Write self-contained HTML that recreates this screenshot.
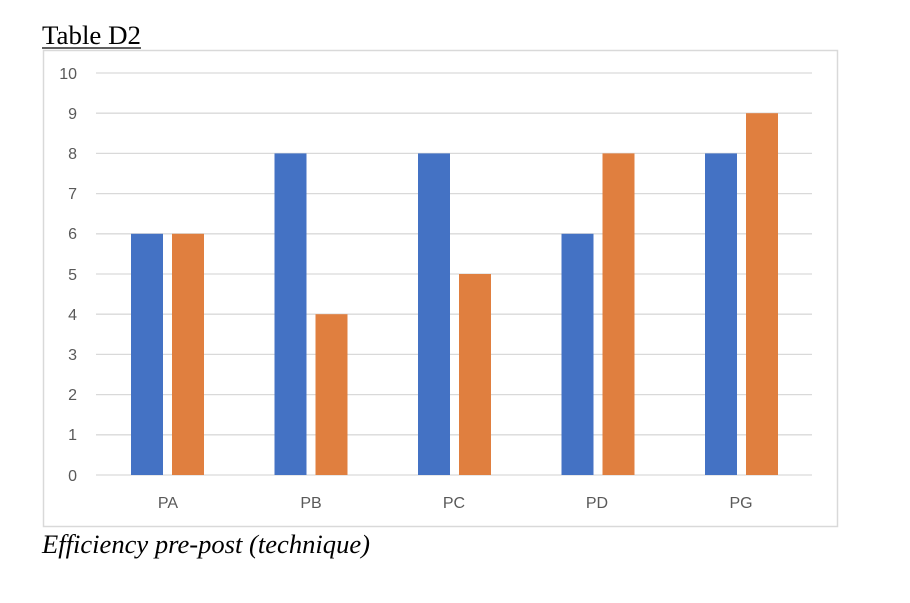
<!DOCTYPE html>
<html><head><style>
body{margin:0;width:910px;height:598px;background:#fff;overflow:hidden}
</style></head><body>
<svg width="910" height="598" xmlns="http://www.w3.org/2000/svg">
<text x="42" y="44" font-family="Liberation Serif, serif" font-size="26" fill="#000" textLength="99" lengthAdjust="spacingAndGlyphs">Table D2</text>
<line x1="42" y1="48" x2="141" y2="48" stroke="#000" stroke-width="1.3"/>
<rect x="43.5" y="50.5" width="794" height="476" fill="none" stroke="#d9d9d9" stroke-width="1.5"/>
<g stroke="#d9d9d9" stroke-width="1.3">
<line x1="96" x2="812" y1="73" y2="73"/><line x1="96" x2="812" y1="113.2" y2="113.2"/>
<line x1="96" x2="812" y1="153.4" y2="153.4"/><line x1="96" x2="812" y1="193.6" y2="193.6"/>
<line x1="96" x2="812" y1="233.8" y2="233.8"/><line x1="96" x2="812" y1="274" y2="274"/>
<line x1="96" x2="812" y1="314.2" y2="314.2"/><line x1="96" x2="812" y1="354.4" y2="354.4"/>
<line x1="96" x2="812" y1="394.6" y2="394.6"/><line x1="96" x2="812" y1="434.8" y2="434.8"/>
<line x1="96" x2="812" y1="475" y2="475"/>
</g>
<g font-family="Liberation Sans, sans-serif" font-size="16" fill="#595959" text-anchor="end">
<text x="77" y="79">10</text><text x="77" y="119">9</text><text x="77" y="159">8</text>
<text x="77" y="199">7</text><text x="77" y="239">6</text><text x="77" y="280">5</text>
<text x="77" y="320">4</text><text x="77" y="360">3</text><text x="77" y="400">2</text>
<text x="77" y="440">1</text><text x="77" y="481">0</text>
</g>
<g fill="#4472c4">
<rect x="131" y="233.8" width="32" height="241.2"/>
<rect x="274.5" y="153.4" width="32" height="321.6"/>
<rect x="418" y="153.4" width="32" height="321.6"/>
<rect x="561.5" y="233.8" width="32" height="241.2"/>
<rect x="705" y="153.4" width="32" height="321.6"/>
</g>
<g fill="#e07f3f">
<rect x="172" y="233.8" width="32" height="241.2"/>
<rect x="315.5" y="314.2" width="32" height="160.8"/>
<rect x="459" y="274" width="32" height="201"/>
<rect x="602.5" y="153.4" width="32" height="321.6"/>
<rect x="746" y="113.2" width="32" height="361.8"/>
</g>
<g font-family="Liberation Sans, sans-serif" font-size="16" fill="#595959" text-anchor="middle">
<text x="168" y="508">PA</text><text x="311" y="508">PB</text><text x="454" y="508">PC</text>
<text x="597" y="508">PD</text><text x="741" y="508">PG</text>
</g>
<text x="42" y="553" font-family="Liberation Serif, serif" font-style="italic" font-size="26" fill="#000" textLength="328" lengthAdjust="spacingAndGlyphs">Efficiency pre-post (technique)</text>
</svg>
</body></html>
